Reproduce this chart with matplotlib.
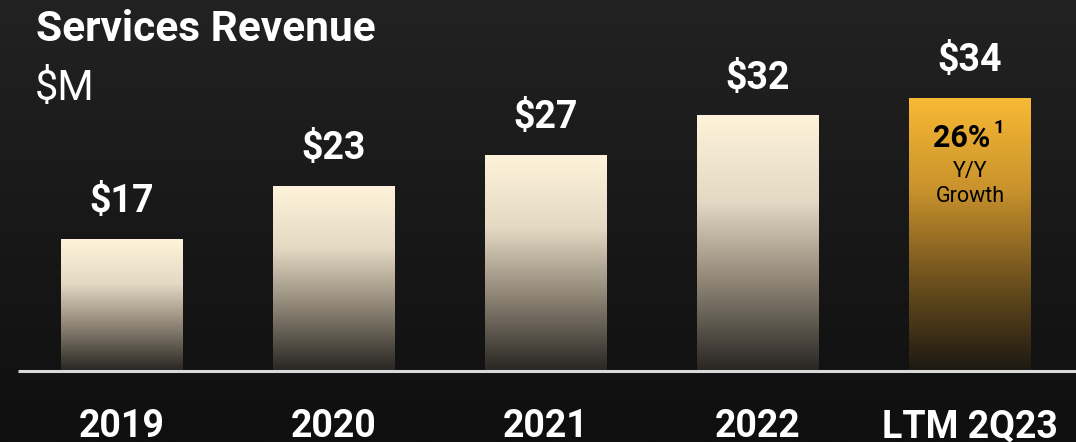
import matplotlib.pyplot as plt
import numpy as np
from matplotlib.colors import LinearSegmentedColormap

plt.rcParams['font.family'] = ['Roboto', 'DejaVu Sans']

categories = ['2019', '2020', '2021', '2022', 'LTM 2Q23']
revenue = [16.5, 23.1, 27.0, 31.9, 34.1]
value_labels = ['$17', '$23', '$27', '$32', '$34']

cream = LinearSegmentedColormap.from_list('cream', ['#282522', '#8a8172', '#e4dac4', '#fef2da'])
gold = LinearSegmentedColormap.from_list('gold', ['#1c1812', '#6e511e', '#c9922c', '#f8b934'])

fig = plt.figure(figsize=(10.76, 4.42), dpi=100)

# background gradient
bg = fig.add_axes([0, 0, 1, 1])
bg.axis('off')
grad = np.linspace(1, 0, 256).reshape(-1, 1)
bgmap = LinearSegmentedColormap.from_list('bg', ['#0f0f0f', '#222222'])
bg.imshow(grad, cmap=bgmap, aspect='auto', extent=(0, 1, 0, 1))

ax = fig.add_axes([0, 0, 1, 1])
ax.set_facecolor('none')
ax.set_xlim(-0.575, 4.5)
ax.set_ylim(-71 / 8, 371 / 8)
ax.axis('off')

x = np.arange(len(categories))
width = 0.575
ramp = np.linspace(1, 0, 256).reshape(-1, 1)
for i, (xi, h) in enumerate(zip(x, revenue)):
    cmap = gold if i == len(categories) - 1 else cream
    ax.imshow(ramp, cmap=cmap, aspect='auto', interpolation='bicubic',
              extent=(xi - width / 2, xi + width / 2, 0, h), zorder=2)
    ax.text(xi, h + 3.4, value_labels[i], ha='center', va='baseline',
            color='white', fontsize=27, fontweight='bold')
    ax.text(xi, -8.3, categories[i], ha='center', va='baseline',
            color='white', fontsize=27, fontweight='bold')

ax.plot([-0.49, 4.5], [0, 0], color='#d9d9d9', lw=2.2, zorder=3,
        solid_capstyle='butt')

# growth callout in last bar
xl = x[-1]
ax.text(xl - 0.04, 28.0, '26%', ha='center', va='baseline', color='black',
        fontsize=22, fontweight='bold', zorder=4)
ax.text(xl + 0.135, 29.7, '1', ha='center', va='baseline', color='black',
        fontsize=13.5, fontweight='bold', zorder=4)
ax.text(xl, 24.3, 'Y/Y', ha='center', va='baseline', color='black',
        fontsize=15.5, zorder=4)
ax.text(xl, 21.1, 'Growth', ha='center', va='baseline', color='black',
        fontsize=15.5, zorder=4)

fig.text(36 / 1076, 1 - 41 / 442, 'Services Revenue', color='white',
         fontsize=30.5, fontweight='bold', va='baseline', ha='left')
fig.text(35 / 1076, 1 - 100 / 442, '$M', color='white',
         fontsize=30, va='baseline', ha='left')

fig.savefig('out.png', dpi=100, facecolor='#1a1a1a')
